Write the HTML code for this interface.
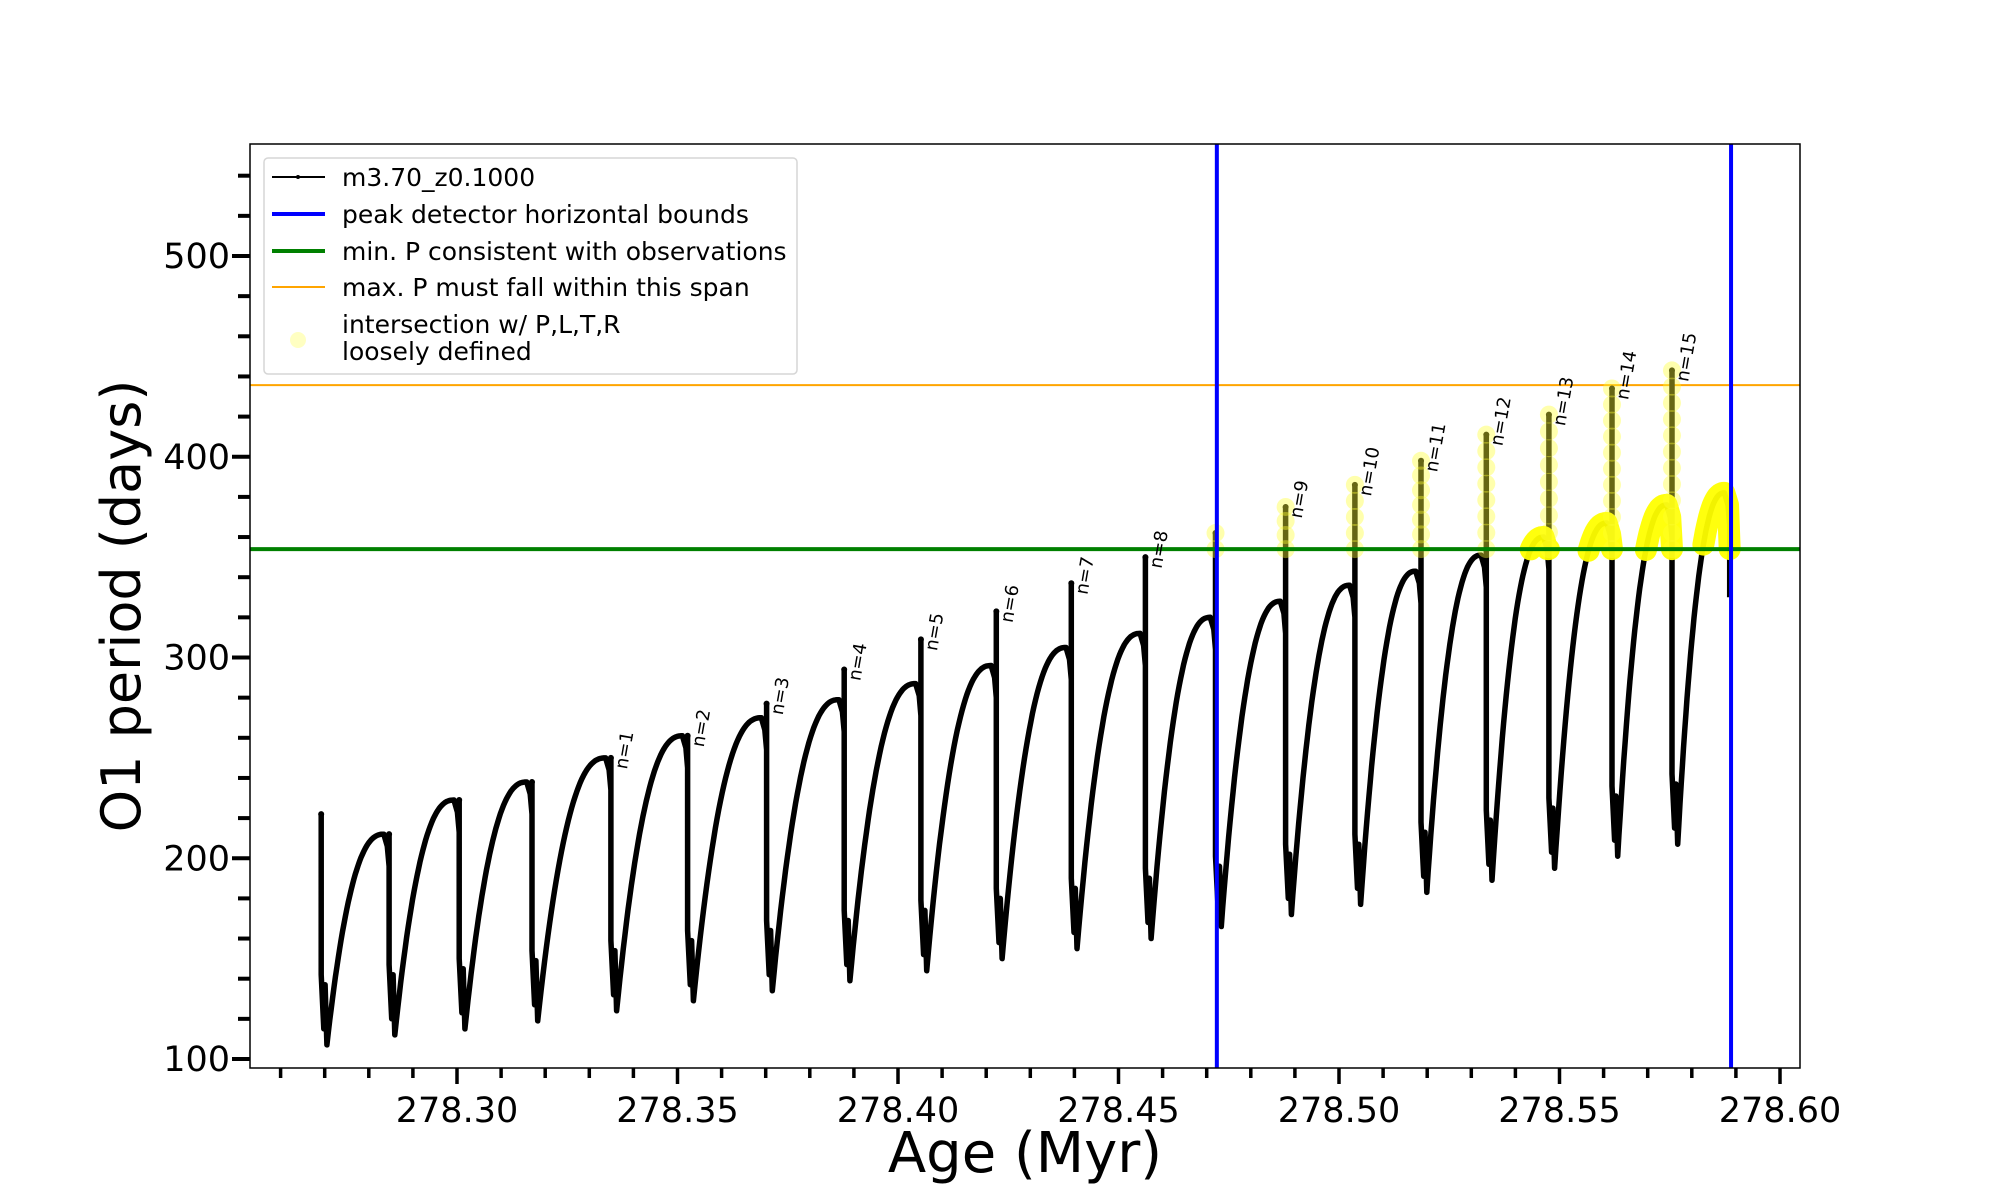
<!DOCTYPE html>
<html><head><meta charset="utf-8"><style>
html,body{margin:0;padding:0;background:#fff;}
svg{display:block;font-family:"DejaVu Sans","Liberation Sans",sans-serif;}
</style></head><body>
<svg id="chart" width="2000" height="1200" viewBox="0 0 2000 1200" xmlns="http://www.w3.org/2000/svg">
<rect x="0" y="0" width="2000" height="1200" fill="#fff"/>
<g id="plot"></g>
<g id="axes"></g>
<g id="legend">
  <rect x="264" y="158" width="533" height="216" rx="4" fill="#fff" fill-opacity="0.85" stroke="#d6d6d6" stroke-width="1.5"/>
  <g>
    <line x1="272" y1="177" x2="325" y2="177" stroke="#000" stroke-width="2"/>
    <circle cx="298" cy="177" r="2" fill="#000"/>
    <text x="342" y="186" font-size="25">m3.70_z0.1000</text>
  </g>
  <g>
    <line x1="272" y1="214" x2="325" y2="214" stroke="#0000ff" stroke-width="4"/>
    <text x="342" y="223" font-size="25">peak detector horizontal bounds</text>
  </g>
  <g>
    <line x1="272" y1="251" x2="325" y2="251" stroke="#008000" stroke-width="4"/>
    <text x="342" y="260" font-size="25">min. P consistent with observations</text>
  </g>
  <g>
    <line x1="272" y1="287" x2="325" y2="287" stroke="#ffa500" stroke-width="2"/>
    <text x="342" y="296" font-size="25">max. P must fall within this span</text>
  </g>
  <g>
    <ellipse cx="298" cy="340" rx="8" ry="8" fill="#ffff66" fill-opacity="0.4"/>
    <text x="342" y="333" font-size="25">intersection w/ P,L,T,R</text>
    <text x="342" y="360" font-size="25">loosely defined</text>
  </g>
</g>
</svg>
<script>
// ---- data ----
const eventAge = [278.2692,278.2846,278.3005,278.3170,278.3349,278.3523,278.3702,278.3878,278.4052,278.4223,278.4393,278.4561,278.4720,278.4879,278.5036,278.5186,278.5334,278.5476,278.5619,278.5755];
const endAge = 278.5886;
const humpMax = [212,229,238,250,261,270,279,287,296,305,312,320,328,336,343,351,360,367,376,382];
const spikeTop = [222,212,229,238,250,261,277,294,309,323,337,350,362,375,386,398,411,421,434,443];
const dipVal = [107,112,115,119,124,129,134,139,144,150,155,160,166,172,177,183,189,195,201,207];
const labelN = [null,null,null,null,1,2,3,4,5,6,7,8,null,9,10,11,12,13,14,15];
const boundAges = [278.4723,278.5889];
const minP = 354;
const maxP = 435.7;
const xTickLabels = ["278.30","278.35","278.40","278.45","278.50","278.55","278.60"];
const xTickVals = [278.30,278.35,278.40,278.45,278.50,278.55,278.60];
const yTickVals = [100,200,300,400,500];

// ---- axes functions ----
const L=250,R=1800,T=144,B=1068;
function X(a){return 457+(a-278.30)*4410;}
function Y(v){return 256+(500-v)*2.0075;}
const NS="http://www.w3.org/2000/svg";
function mk(tag,attrs,parent){const e=document.createElementNS(NS,tag);for(const k in attrs)e.setAttribute(k,attrs[k]);parent.appendChild(e);return e;}
const plot=document.getElementById('plot');
const axes=document.getElementById('axes');

function f(s){return 1-Math.pow(1-s,2.4);}
let pts=[]; let yellowSegs=[]; let spikes=[];
for(let k=0;k<eventAge.length;k++){
  const t=eventAge[k];
  const tn=(k+1<eventAge.length)?eventAge[k+1]:endAge;
  if(k===0) pts.push([t,197]);
  pts.push([t,spikeTop[k]]);
  spikes.push([t,k]);
  pts.push([t,dipVal[k]+35]);
  pts.push([t+0.0006,dipVal[k]+8]);
  pts.push([t+0.0009,dipVal[k]+30]);
  pts.push([t+0.0013,dipVal[k]]);
  const t0=t+0.0013, t1=tn-0.0012;
  const seg=[];
  const N=40;
  for(let i=1;i<=N;i++){const s=i/N;const p=[t0+(t1-t0)*s,dipVal[k]+(humpMax[k]-dipVal[k])*f(s)];pts.push(p);seg.push(p);}
  const endV = humpMax[k]-6;
  pts.push([tn-0.0004,endV]); seg.push([tn-0.0004,endV]);
  pts.push([tn,endV-10]); seg.push([tn,minP]);
  if(k+1>=eventAge.length){pts.push([tn,330]);}
  if(humpMax[k]>minP+3){yellowSegs.push(seg.filter(p=>p[1]>=minP-1));}
}

const gl=mk('line',{x1:L,x2:R,y1:Y(maxP),y2:Y(maxP),stroke:'#ffa500','stroke-width':2},plot);



const line=mk('polyline',{points:pts.map(q=>X(q[0]).toFixed(1)+','+Y(q[1]).toFixed(1)).join(' '),fill:'none',stroke:'#000','stroke-width':5.5,'stroke-linejoin':'round'},plot);


spikes.forEach(([t,k])=>{
  const l=mk('line',{x1:X(t),x2:X(t),y1:Y(spikeTop[k]),y2:Y(dipVal[k]+35),stroke:'#000','stroke-width':3.5},plot);
  
  
  mk('circle',{cx:X(t),cy:Y(spikeTop[k]),r:3,fill:'#000'},plot);
});

yellowSegs.forEach(seg=>{
  const p=mk('polyline',{points:seg.map(q=>X(q[0]).toFixed(1)+','+Y(q[1]).toFixed(1)).join(' '),fill:'none',stroke:'#ffff00','stroke-width':22,'stroke-linecap':'round','stroke-linejoin':'round','stroke-opacity':0.95},plot);
  
  
});

spikes.forEach(([t,k])=>{
  const top=spikeTop[k];
  if(top<=minP) return;
  const n=Math.max(1,Math.round((top-minP)/8));
  for(let i=0;i<=n;i++){
    const v=minP+(top-minP)*i/n;
    const c=mk('circle',{cx:X(t),cy:Y(v),r:9,fill:'#ffff33','fill-opacity':0.4},plot);
    
    
  }
});

const gg=mk('line',{x1:L,x2:R,y1:Y(minP),y2:Y(minP),stroke:'#008000','stroke-width':4},plot);


boundAges.forEach(a=>{
  const b=mk('line',{x1:X(a),x2:X(a),y1:T,y2:B,stroke:'#0000ff','stroke-width':4},plot);
  
  
});

spikes.forEach(([t,k])=>{
  if(labelN[k]===null) return;
  const x=X(t)+16, y=Y(spikeTop[k])+12;
  const tx=mk('text',{x:x,y:y,'font-size':18,transform:`rotate(-80 ${x} ${y})`},plot);
  tx.textContent='n='+labelN[k];
  
  
});

const fr=mk('rect',{x:L,y:T,width:R-L,height:B-T,fill:'none',stroke:'#000','stroke-width':1.5},axes);



for(let i=0;i<=34;i++){
  const a=278.26+i*0.01;
  if(X(a)>R) break;
  const major=xTickVals.some(v=>Math.abs(v-a)<1e-6);
  mk('line',{x1:X(a),x2:X(a),y1:B,y2:B+(major?16:10),stroke:'#000','stroke-width':3.5},axes);
}
xTickVals.forEach((v,i)=>{
  const t=mk('text',{x:X(v),y:1122,'font-size':35,'text-anchor':'middle'},axes);
  t.textContent=xTickLabels[i];
  
  
});
for(let v=100;v<=540;v+=20){
  const major=v%100===0;
  mk('line',{x1:L-(major?18:12),x2:L,y1:Y(v),y2:Y(v),stroke:'#000','stroke-width':4},axes);
}
yTickVals.forEach(v=>{
  const t=mk('text',{x:230,y:Y(v)+12,'font-size':35,'text-anchor':'end'},axes);
  t.textContent=String(v);
  
  
});
const xt=mk('text',{x:1025,y:1172,'font-size':56,'text-anchor':'middle'},axes);
xt.textContent='Age (Myr)';


const yt=mk('text',{x:140,y:606,'font-size':54,'text-anchor':'middle',transform:'rotate(-90 140 606)'},axes);
yt.textContent='O1 period (days)';


</script>
</body></html>
